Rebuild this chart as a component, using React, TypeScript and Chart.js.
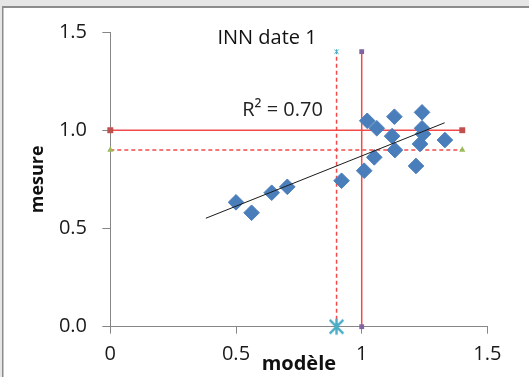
import React, { useEffect, useRef } from "react";
import { Chart, registerables } from "chart.js";

Chart.register(...registerables);

// ---- data ----
const modelX = [0.5, 0.562, 0.642, 0.704, 0.92, 1.01, 1.022, 1.06, 1.05, 1.13, 1.121, 1.132, 1.24, 1.24, 1.244, 1.232, 1.216, 1.331];
const measureY = [0.633, 0.58, 0.682, 0.712, 0.743, 0.794, 1.048, 1.01, 0.862, 1.069, 0.97, 0.899, 1.091, 1.01, 0.981, 0.93, 0.818, 0.95];
const trendX = [0.38, 1.33];
const trendY = [0.552, 1.038];
const solidHX = [0, 1.4];
const solidHY = [1, 1];
const dashHX = [0, 1.4];
const dashHY = [0.9, 0.9];
const solidVX = [1, 1];
const solidVY = [0, 1.4];
const dashVX = [0.9, 0.9];
const dashVY = [0, 1.4];
const starX = [0.9];
const starY = [0];
const xTicks = [0, 0.5, 1, 1.5];
const yTicks = [0, 0.5, 1, 1.5];
const chartTitle = "INN date 1";
const r2Text = "R² = 0.70";
const r2At = [0.685, 1.072];
const xTitle = "modèle";
const yTitle = "mesure";

const pts = (xs: number[], ys: number[]) => xs.map((x, i) => ({ x, y: ys[i] }));

function makeStar(r: number, lw: number, color: string) {
  const s = Math.ceil(2 * r + lw * 2 + 2);
  const c = document.createElement("canvas");
  c.width = s;
  c.height = s;
  const ctx = c.getContext("2d")!;
  const m = s / 2;
  ctx.strokeStyle = color;
  ctx.lineWidth = lw;
  ctx.lineCap = "butt";
  ctx.beginPath();
  ctx.moveTo(m, m - r);
  ctx.lineTo(m, m + r);
  ctx.moveTo(m - r * 0.85, m - r * 0.85);
  ctx.lineTo(m + r * 0.85, m + r * 0.85);
  ctx.moveTo(m + r * 0.85, m - r * 0.85);
  ctx.lineTo(m - r * 0.85, m + r * 0.85);
  ctx.stroke();
  return c;
}

const FONT = "'Open Sans', 'DejaVu Sans', sans-serif";
const AXIS = "#868686";
const RED = "#F24A4A";

const framePlugin = {
  id: "frame",
  beforeDraw(chart: any) {
    const { ctx, width, height } = chart;
    ctx.save();
    ctx.fillStyle = "#E6E6E6";
    ctx.fillRect(0, 0, width, height);
    ctx.fillStyle = "#FFFFFF";
    ctx.fillRect(3, 8, width - 3, height - 8);
    ctx.fillStyle = "#8C8C8C";
    ctx.fillRect(2, 6, width - 2, 2);
    ctx.fillRect(2, 6, 1.5, height - 6);
    ctx.restore();
  },
  afterDraw(chart: any) {
    const { ctx, scales } = chart;
    ctx.save();
    ctx.fillStyle = "#111111";
    ctx.font = `20px ${FONT}`;
    ctx.textAlign = "center";
    ctx.textBaseline = "alphabetic";
    ctx.fillText(chartTitle, 267, 44);
    ctx.fillStyle = "#222222";
    ctx.font = `20px ${FONT}`;
    ctx.fillText(r2Text, scales.x.getPixelForValue(r2At[0]), scales.y.getPixelForValue(r2At[1]));
    ctx.restore();
  },
};

export default function App() {
  const ref = useRef<HTMLCanvasElement>(null);
  useEffect(() => {
    const bigStar = makeStar(8, 2.4, "#4BACC6");
    const smallStar = makeStar(2.5, 1, "#4BACC6");
    const chart = new Chart(ref.current!, {
      type: "scatter",
      data: {
        datasets: [
          {
            label: "trend",
            data: pts(trendX, trendY),
            showLine: true,
            borderColor: "#1a1a1a",
            borderWidth: 1,
            pointRadius: 0,
            clip: false,
            order: 0,
          },
          {
            label: "INN",
            data: pts(modelX, measureY),
            pointStyle: "rectRot",
            pointRadius: 7.8,
            backgroundColor: "#4A7EBB",
            borderColor: "#4A7EBB",
            borderWidth: 1,
            clip: false,
            order: 1,
          },
          {
            label: "star",
            data: pts(starX, starY),
            pointStyle: bigStar as any,
            clip: false,
            order: 2,
          },
          {
            label: "h1",
            data: pts(solidHX, solidHY),
            showLine: true,
            borderColor: RED,
            borderWidth: 1.5,
            pointStyle: "rect",
            pointRadius: 4.2,
            backgroundColor: "#C0504D",
            pointBorderColor: "#C0504D",
            pointBorderWidth: 0,
            clip: false,
            order: 3,
          },
          {
            label: "h09",
            data: pts(dashHX, dashHY),
            showLine: true,
            borderColor: RED,
            borderWidth: 1.5,
            borderDash: [4, 3],
            pointStyle: "triangle",
            pointRadius: 3.6,
            backgroundColor: "#9BBB59",
            pointBorderColor: "#9BBB59",
            pointBorderWidth: 0,
            clip: false,
            order: 4,
          },
          {
            label: "v1",
            data: pts(solidVX, solidVY),
            showLine: true,
            borderColor: RED,
            borderWidth: 1.5,
            pointStyle: "rect",
            pointRadius: 3.4,
            backgroundColor: "#8064A2",
            pointBorderColor: "#8064A2",
            pointBorderWidth: 0,
            clip: false,
            order: 5,
          },
          {
            label: "v09",
            data: pts(dashVX, dashVY),
            showLine: true,
            borderColor: RED,
            borderWidth: 1.5,
            borderDash: [4, 3],
            pointStyle: smallStar as any,
            clip: false,
            order: 6,
          },
        ],
      },
      options: {
        responsive: false,
        animation: false,
        devicePixelRatio: 1,
        layout: { padding: { top: 32, right: 41.6, left: 0, bottom: 0 } },
        plugins: { legend: { display: false }, tooltip: { enabled: false }, title: { display: false } },
        scales: {
          x: {
            type: "linear",
            min: 0,
            max: 1.5,
            afterBuildTicks: (s: any) => {
              s.ticks = xTicks.map((v) => ({ value: v }));
            },
            afterFit: (s: any) => {
              s.height = 50.3;
            },
            ticks: {
              color: "#1a1a1a",
              font: { family: FONT, size: 20 },
              padding: 9,
              maxRotation: 0,
              callback: (v: any) => String(v),
            },
            grid: { drawOnChartArea: false, drawTicks: true, tickLength: 7, color: AXIS },
            border: { display: true, color: AXIS, width: 1 },
            title: {
              display: true,
              text: xTitle,
              color: "#111111",
              font: { family: FONT, size: 20, weight: "bold" },
              padding: { top: 0, bottom: 1 },
            },
          },
          y: {
            type: "linear",
            min: 0,
            max: 1.5,
            afterBuildTicks: (s: any) => {
              s.ticks = yTicks.map((v) => ({ value: v }));
            },
            afterFit: (s: any) => {
              s.width = 110.3;
            },
            ticks: {
              color: "#1a1a1a",
              font: { family: FONT, size: 20 },
              padding: 15.3,
              callback: (v: any) => Number(v).toFixed(1),
            },
            grid: { drawOnChartArea: false, drawTicks: true, tickLength: 8, color: AXIS },
            border: { display: true, color: AXIS, width: 1 },
            title: {
              display: true,
              text: yTitle,
              color: "#111111",
              font: { family: FONT, size: 18, weight: "bold" },
              padding: { top: 26.6, bottom: 0 },
            },
          },
        },
      },
      plugins: [framePlugin],
    } as any);
    return () => chart.destroy();
  }, []);
  return (
    <div style={{ position: "absolute", left: 0, top: 0, width: 529, height: 377 }}>
      <canvas ref={ref} width={529} height={377} style={{ display: "block" }} />
    </div>
  );
}
